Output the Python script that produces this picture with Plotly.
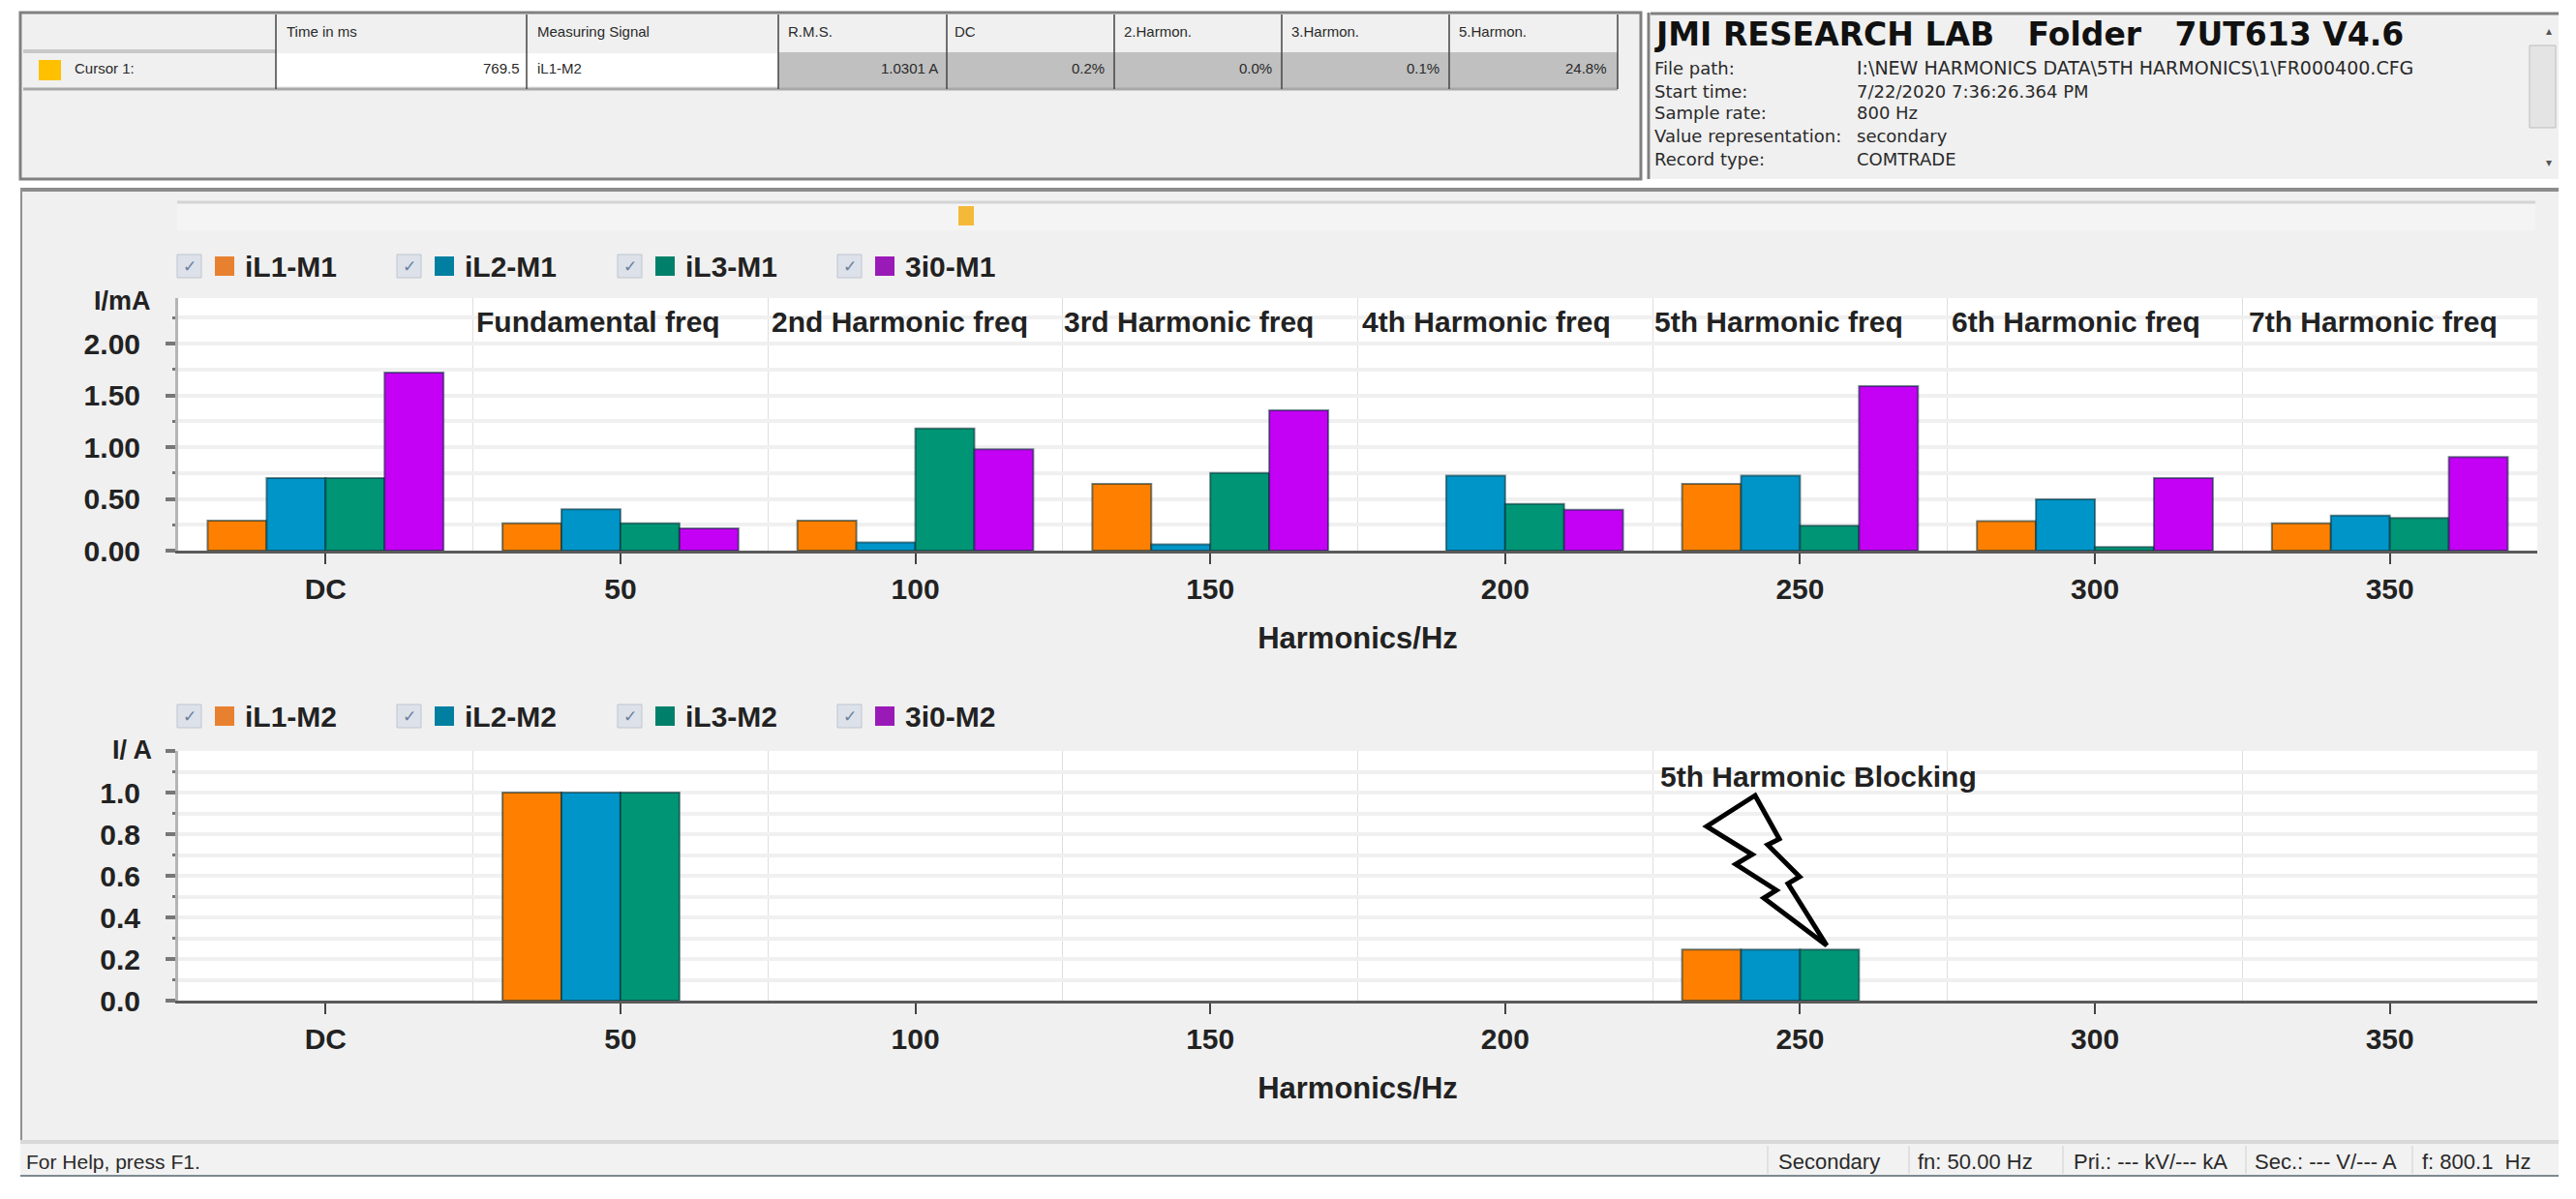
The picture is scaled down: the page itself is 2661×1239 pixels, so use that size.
import plotly.graph_objects as go
from plotly.subplots import make_subplots

W, H = 2661, 1239

# Chart data
categories = ["DC", "50", "100", "150", "200", "250", "300", "350"]
m1_names = ["iL1-M1", "iL2-M1", "iL3-M1", "3i0-M1"]
il1_m1 = [0.29, 0.265, 0.29, 0.645, None, 0.645, 0.285, 0.265]
il2_m1 = [0.70, 0.40, 0.08, 0.06, 0.725, 0.725, 0.495, 0.34]
il3_m1 = [0.70, 0.265, 1.18, 0.75, 0.45, 0.24, 0.035, 0.315]
i30_m1 = [1.72, 0.215, 0.98, 1.355, 0.395, 1.59, 0.70, 0.905]

m2_names = ["iL1-M2", "iL2-M2", "iL3-M2", "3i0-M2"]
il1_m2 = [None, 1.0, None, None, None, 0.245, None, None]
il2_m2 = [None, 1.0, None, None, None, 0.245, None, None]
il3_m2 = [None, 1.0, None, None, None, 0.245, None, None]
i30_m2 = [None, None, None, None, None, None, None, None]

y1_ticks = [0, 0.5, 1.0, 1.5, 2.0]
y1_labels = ["0.00", "0.50", "1.00", "1.50", "2.00"]
y2_ticks = [0, 0.2, 0.4, 0.6, 0.8, 1.0, 1.2]
y2_labels = ["0.0", "0.2", "0.4", "0.6", "0.8", "1.0", ""]

colors = ["#ff8000", "#0095c8", "#009675", "#c400f5"]
swatch_colors = ["#e8812f", "#007fa0", "#00806a", "#9a1ab8"]
harmonic_labels = ["Fundamental freq", "2nd Harmonic freq", "3rd Harmonic freq", "4th Harmonic freq",
                   "5th Harmonic freq", "6th Harmonic freq", "7th Harmonic freq"]

# Window text
table_headers = ["Time in ms", "Measuring Signal", "R.M.S.", "DC", "2.Harmon.", "3.Harmon.", "5.Harmon."]
table_values = ["769.5", "iL1-M2", "1.0301 A", "0.2%", "0.0%", "0.1%", "24.8%"]
info_labels = ["File path:", "Start time:", "Sample rate:", "Value representation:", "Record type:"]
info_values = ["I:\\NEW HARMONICS DATA\\5TH HARMONICS\\1\\FR000400.CFG", "7/22/2020 7:36:26.364 PM",
               "800 Hz", "secondary", "COMTRADE"]
status_items = ["Secondary", "fn: 50.00 Hz", "Pri.: --- kV/--- kA", "Sec.: --- V/--- A", "f: 800.1  Hz"]


def px(x):
    return x / W


def py(y):
    return 1 - y / H


def rect(x0, y0, x1, y1, fill="rgba(0,0,0,0)", line=None, lw=1):
    return dict(type="rect", xref="paper", yref="paper", layer="below",
                x0=px(x0), x1=px(x1), y0=py(y0), y1=py(y1), fillcolor=fill,
                line=dict(color=line or "rgba(0,0,0,0)", width=lw if line else 0))


def hline(x0, x1, y, color, lw=1):
    return dict(type="line", xref="paper", yref="paper", layer="below", x0=px(x0), x1=px(x1),
                y0=py(y), y1=py(y), line=dict(color=color, width=lw))


def vline(x, y0, y1, color, lw=1):
    return dict(type="line", xref="paper", yref="paper", layer="below", x0=px(x), x1=px(x),
                y0=py(y0), y1=py(y1), line=dict(color=color, width=lw))


def text(x, y, s, size=15, bold=False, anchor="left", family="Liberation Sans", color="#2a2a2a"):
    return dict(xref="paper", yref="paper", x=px(x), y=py(y), text=f"<b>{s}</b>" if bold else s,
                showarrow=False, xanchor=anchor, yanchor="middle",
                font=dict(family=family, size=size, color=color))


fig = make_subplots(rows=2, cols=1)

x_idx = list(range(len(categories)))
for row, names, series in [(1, m1_names, [il1_m1, il2_m1, il3_m1, i30_m1]),
                           (2, m2_names, [il1_m2, il2_m2, il3_m2, i30_m2])]:
    for name, vals, color in zip(names, series, colors):
        fig.add_trace(go.Bar(x=x_idx, y=vals, name=name, showlegend=False,
                             marker=dict(color=color, line=dict(color="rgba(0,40,50,0.55)", width=2))),
                      row=row, col=1)

shapes = [
    # window panels
    rect(21, 13, 1695, 185, "#f0f0f0", "#808080", 3),
    rect(1705, 13, 2643, 185, "#f0f0f0"),
    hline(1705, 2643, 14, "#808080", 3),
    vline(1703, 13, 185, "#808080", 3),
    rect(21, 195, 2643, 1178, "#f0f0f0"),
    hline(21, 2643, 196, "#8c8c8c", 4),
    vline(22, 195, 1178, "#909090", 2),
    rect(21, 1178, 2643, 1215, "#f2f2f2"),
    hline(21, 2643, 1180, "#d8d8d8", 4),
    hline(21, 2643, 1215, "#7c8a90", 2),
    # cursor table
    rect(285, 55, 804, 89, "#ffffff"),
    rect(804, 54, 1671, 91, "#c0c0c0"),
    hline(24, 285, 53, "#c8c8c8", 4),
    hline(24, 1671, 92, "#a8a8a8", 3),
    rect(40, 62, 63, 83, "#ffc000"),
    # info panel scrollbar
    rect(2613, 47, 2640, 132, "#e4e4e4", "#bdbdbd"),
    # time slider
    rect(183, 208, 2619, 238, "#f4f4f4"),
    hline(183, 2619, 209, "#d4d4d4", 3),
    rect(990, 213, 1006, 233, "#f5b93a"),
    # plot backgrounds
    rect(184, 308, 2621, 569, "#ffffff"),
    rect(184, 776, 2621, 1034, "#ffffff"),
    # lightning bolt pointing at the blocked 5th harmonic
    dict(type="path", xref="paper", yref="paper", layer="above",
         path="M" + "L".join(f"{px(a)},{py(b)}" for a, b in [
             (1813, 822), (1763, 854), (1810, 883), (1793, 893), (1835, 920), (1822, 928),
             (1887, 977), (1847, 913), (1859, 906), (1826, 873), (1838, 867)]) + "Z",
         line=dict(color="#000000", width=5)),
]
for x in [285, 544, 804, 978, 1151, 1324, 1497, 1671]:
    shapes.append(vline(x, 15, 92, "#444444", 1.5))
for x in [1826, 1972, 2131, 2320, 2492]:
    shapes.append(vline(x, 1184, 1213, "#d0d0d0", 1))

annotations = [
    text(75, 70, "Cursor 1:", 15),
    text(1707, 36, "JMI RESEARCH LAB\u00a0\u00a0\u00a0Folder\u00a0\u00a0\u00a07UT613 V4.6", 33, True,
         family="DejaVu Sans", color="#111111"),
    text(2628, 32, "▴", 12, color="#555555"),
    text(2628, 168, "▾", 12, color="#555555"),
    text(158, 311, "I/mA", 27, True, "right", color="#222222"),
    text(159, 775, "I/ A", 27, True, "right", color="#222222"),
    text(1713, 802, "5th Harmonic Blocking", 30, True, color="#222222"),
    text(25, 1200, "For Help, press F1.", 21),
]
for x, s in zip([294, 553, 812, 984, 1159, 1332, 1505], table_headers):
    annotations.append(text(x, 32, s, 15))
annotations.append(text(539, 70, table_values[0], 15, anchor="right"))
annotations.append(text(553, 70, table_values[1], 15))
for x, s in zip([971, 1143, 1316, 1489, 1662], table_values[2:]):
    annotations.append(text(x, 70, s, 15, anchor="right"))
for i, (y, label, value) in enumerate(zip([70, 94, 117, 141, 164], info_labels, info_values)):
    annotations.append(text(1707, y, label, 18, family="DejaVu Sans"))
    annotations.append(text(1916, y, value, 19 if i == 0 else 18, family="DejaVu Sans"))
for x, s in zip([1835, 1979, 2140, 2327, 2500], status_items):
    annotations.append(text(x, 1200, s, 22))
for x, s in zip([490, 795, 1097, 1405, 1707, 2014, 2321], harmonic_labels):
    annotations.append(text(x, 333, s, 30, True, color="#222222"))

# application legend: check box, colour swatch, label
for y, names in [(275, m1_names), (740, m2_names)]:
    for x, name, color in zip([183, 410, 638, 865], names, swatch_colors):
        shapes.append(rect(x, y - 12, x + 25, y + 12, "#dde2ea", "#bfc5cf", 1))
        shapes.append(rect(x + 39, y - 10, x + 59, y + 10, color))
        annotations.append(text(x + 12.5, y, "✓", 17, anchor="center", family="DejaVu Sans", color="#6a7f9e"))
        annotations.append(text(x + 68, y, name, 30, True, color="#222222"))

fig.update_layout(
    width=W, height=H, autosize=False,
    margin=dict(l=0, r=0, t=0, b=0, autoexpand=False),
    paper_bgcolor="#ffffff", plot_bgcolor="rgba(0,0,0,0)",
    barmode="group", bargap=0.2, bargroupgap=0,
    shapes=shapes, annotations=annotations,
    font=dict(family="Liberation Sans"),
)

tick_font = dict(family="Liberation Sans", size=30, color="#222222", weight="bold")
for row, dom, y_range, ticks, labels, minor in [(1, (569, 308), [0, 2.44], y1_ticks, y1_labels, 0.25),
                                                (2, (1034, 776), [0, 1.2], y2_ticks, y2_labels, 0.1)]:
    fig.update_xaxes(row=row, col=1, domain=[px(184), px(2621)], range=[-0.5, 7.5],
                     tickmode="array", tickvals=x_idx, ticktext=categories, tickfont=tick_font,
                     ticks="outside", ticklen=11, tickwidth=1.5, tickcolor="#444444", ticklabelstandoff=0,
                     showgrid=False, zeroline=False, showline=True, linecolor="#5a5a5a", linewidth=3,
                     minor=dict(tickvals=[i - 0.5 for i in x_idx], ticks="", showgrid=True,
                                gridcolor="#dedede", gridwidth=1),
                     title=dict(text="Harmonics/Hz", standoff=25,
                                font=dict(family="Liberation Sans", size=31, color="#222222", weight="bold")))
    fig.update_yaxes(row=row, col=1, domain=[py(dom[0]), py(dom[1])], range=y_range,
                     tickmode="array", tickvals=ticks, ticktext=labels, tickfont=tick_font,
                     ticks="outside", ticklen=10, tickwidth=4, tickcolor="#777777", ticklabelstandoff=20,
                     showgrid=True, gridcolor="#f0f0f0", gridwidth=4, zeroline=False,
                     showline=True, linecolor="#b4b4b4", linewidth=3,
                     minor=dict(dtick=minor, ticks="outside", ticklen=3, tickwidth=3, tickcolor="#777777",
                                showgrid=True, gridcolor="#f0f0f0", gridwidth=4))

fig.write_html("out.html", config={"displayModeBar": False}, post_script="document.body.style.margin='0';")
